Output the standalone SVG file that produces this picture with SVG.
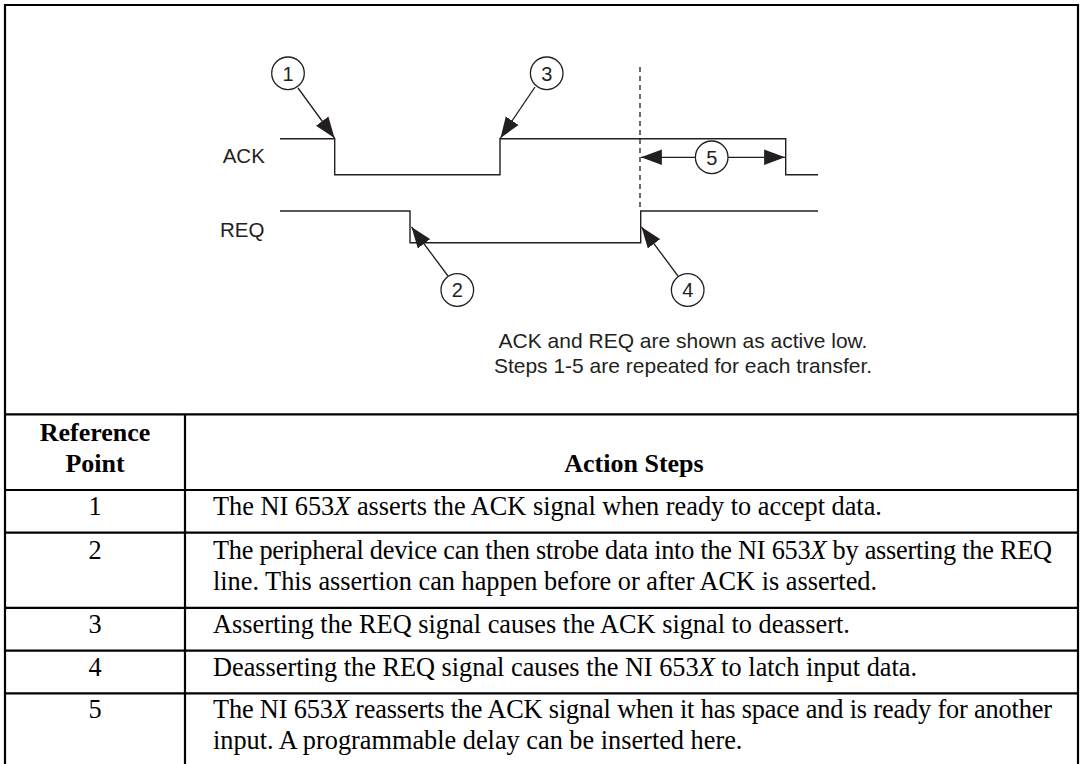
<svg xmlns="http://www.w3.org/2000/svg" width="1083" height="764" viewBox="0 0 1083 764">
<style>
.frame{fill:none;stroke:#000;stroke-width:2.2}
.wave{fill:none;stroke:#231f20;stroke-width:1.4}
.dash{fill:none;stroke:#231f20;stroke-width:1.3;stroke-dasharray:5 4}
.arr{fill:none;stroke:#231f20;stroke-width:1.3}
.circ{fill:#fff;stroke:#231f20;stroke-width:1.3}
.lbl{font-family:"Liberation Sans",Arial,sans-serif;font-size:20.5px;fill:#231f20}
.num{font-family:"Liberation Sans",Arial,sans-serif;font-size:20px;fill:#231f20;text-anchor:middle}
.cap{font-family:"Liberation Sans",Arial,sans-serif;font-size:21px;fill:#231f20;text-anchor:middle}
.th{font-family:"Liberation Serif","Times New Roman",serif;font-size:26px;font-weight:bold;fill:#000;text-anchor:middle}
.td{font-family:"Liberation Serif","Times New Roman",serif;font-size:26.3px;fill:#000}
.tc{font-family:"Liberation Serif","Times New Roman",serif;font-size:26.3px;fill:#000;text-anchor:middle}
</style>
<defs>
<marker id="ah" markerUnits="userSpaceOnUse" markerWidth="22" markerHeight="16" refX="19" refY="7" orient="auto-start-reverse" viewBox="0 0 20 14">
<path d="M0,0 L19,7 L0,14 z" fill="#231f20"/>
</marker>
</defs>

<g id="frame">
<line class="frame" x1="5" y1="5" x2="1078" y2="5"/>
<line class="frame" x1="5" y1="4" x2="5" y2="764"/>
<line class="frame" x1="1078" y1="4" x2="1078" y2="764"/>
</g>

<g id="ack-signal">
<text class="lbl" x="222.7" y="163.3">ACK</text>
<polyline class="wave" points="280,138.7 334.7,138.7 334.7,174.7 500,174.7 500,138.7 785.7,138.7 785.7,174.7 818,174.7"/>
</g>
<g id="req-signal">
<text class="lbl" x="220" y="237.3">REQ</text>
<polyline class="wave" points="280,211 410,211 410,242.7 640.7,242.7 640.7,211 818,211"/>
</g>
<g id="marker-line">
<line class="dash" x1="640" y1="67" x2="640" y2="211"/>
</g>

<g id="connectors">
<line class="arr" x1="298" y1="88" x2="334.5" y2="138" marker-end="url(#ah)"/>
<line class="arr" x1="535" y1="87" x2="500.5" y2="138" marker-end="url(#ah)"/>
<line class="arr" x1="448" y1="276" x2="411.5" y2="227" marker-end="url(#ah)"/>
<line class="arr" x1="678" y1="276" x2="641.5" y2="227" marker-end="url(#ah)"/>
<line class="arr" x1="641" y1="157.3" x2="695" y2="157.3" marker-start="url(#ah)"/>
<line class="arr" x1="728" y1="157.3" x2="785" y2="157.3" marker-end="url(#ah)"/>
</g>

<g id="callout-1"><circle class="circ" cx="288" cy="73.3" r="16.3"/><text class="num" x="288" y="80.5">1</text></g>
<g id="callout-2"><circle class="circ" cx="457.3" cy="290" r="16.3"/><text class="num" x="457.3" y="297.2">2</text></g>
<g id="callout-3"><circle class="circ" cx="546.7" cy="73.3" r="16.3"/><text class="num" x="546.7" y="80.5">3</text></g>
<g id="callout-4"><circle class="circ" cx="687.7" cy="290" r="16.3"/><text class="num" x="687.7" y="297.2">4</text></g>
<g id="callout-5"><circle class="circ" cx="711.7" cy="157.3" r="16.3"/><text class="num" x="711.7" y="164.5">5</text></g>

<g id="caption">
<text class="cap" x="683" y="347.7">ACK and REQ are shown as active low.</text>
<text class="cap" x="683" y="373">Steps 1-5 are repeated for each transfer.</text>
</g>

<g id="table">
<g id="table-lines">
<line class="frame" x1="5" y1="414.3" x2="1078" y2="414.3"/>
<line class="frame" x1="5" y1="490" x2="1078" y2="490"/>
<line class="frame" x1="5" y1="532.7" x2="1078" y2="532.7"/>
<line class="frame" x1="5" y1="607.9" x2="1078" y2="607.9"/>
<line class="frame" x1="5" y1="650.6" x2="1078" y2="650.6"/>
<line class="frame" x1="5" y1="693.3" x2="1078" y2="693.3"/>
<line class="frame" x1="185" y1="414.3" x2="185" y2="764"/>
</g>
<g id="header">
<text class="th" x="95" y="441">Reference</text>
<text class="th" x="95" y="471.7">Point</text>
<text class="th" x="634" y="472">Action Steps</text>
</g>
<g id="row-1">
<text class="tc" x="95" y="515">1</text>
<text class="td" x="213" y="515">The NI 653<tspan font-style="italic">X</tspan> asserts the ACK signal when ready to accept data.</text>
</g>
<g id="row-2">
<text class="tc" x="95" y="559">2</text>
<text class="td" x="213" y="559" textLength="839" lengthAdjust="spacing">The peripheral device can then strobe data into the NI 653<tspan font-style="italic">X</tspan> by asserting the REQ</text>
<text class="td" x="213" y="590">line. This assertion can happen before or after ACK is asserted.</text>
</g>
<g id="row-3">
<text class="tc" x="95" y="633">3</text>
<text class="td" x="213" y="633">Asserting the REQ signal causes the ACK signal to deassert.</text>
</g>
<g id="row-4">
<text class="tc" x="95" y="675.6">4</text>
<text class="td" x="213" y="675.6">Deasserting the REQ signal causes the NI 653<tspan font-style="italic">X</tspan> to latch input data.</text>
</g>
<g id="row-5">
<text class="tc" x="95" y="718.3">5</text>
<text class="td" x="213" y="718.3" textLength="839" lengthAdjust="spacing">The NI 653<tspan font-style="italic">X</tspan> reasserts the ACK signal when it has space and is ready for another</text>
<text class="td" x="213" y="749">input. A programmable delay can be inserted here.</text>
</g>
</g>
</svg>
